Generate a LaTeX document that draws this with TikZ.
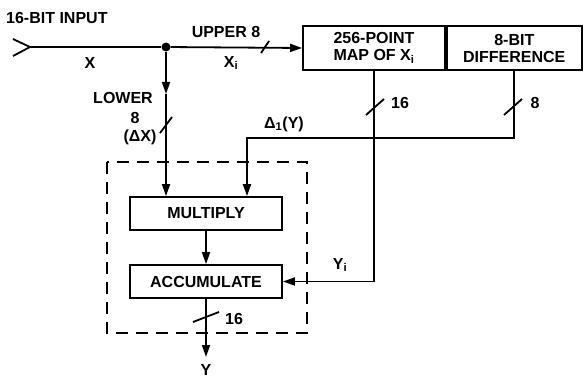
\documentclass[tikz,border=0pt]{standalone}
\usepackage{fontspec}
\setmainfont{Liberation Sans}
\usetikzlibrary{positioning,arrows.meta,calc}

\begin{document}
\begin{tikzpicture}[x=1pt, y=-1pt,
  every node/.style={font=\fontsize{16}{17}\selectfont\bfseries, inner sep=0pt},
  blk/.style={draw, line width=1.8pt, minimum height=#1, align=center},
  blk/.default=33pt,
  wire/.style={line width=1.8pt},
  arr/.style={wire, -{Triangle[length=12pt,width=8pt]}},
  dot/.style={circle, fill, minimum size=9pt},
  frame/.style={line width=1.8pt, dash pattern=on 12pt off 8pt}]
\useasboundingbox (0,0) rectangle (583,379);

%% Lookup table row
\node[blk=44pt, minimum width=142pt] (map) at (374,48) {256-POINT\\MAP OF X\textsubscript{i}};
\node[blk=44pt, minimum width=135pt, anchor=west] (diff) at (map.east) {8-BIT\\DIFFERENCE};

%% Interpolator blocks
\node[blk, minimum width=152pt] (mult)  at (206,213.5) {MULTIPLY};
\node[blk, minimum width=152pt] (accum) at (206,281.5) {ACCUMULATE};
\draw[frame] (107,162) rectangle (307,333);

%% Input and junction
\coordinate (chevA) at (13,39);
\coordinate (chevB) at (13,56);
\coordinate (in)    at (30,47);
\node[dot] (jn) at (166,47) {};
\coordinate (lowmid) at (166,94);
\coordinate (dY)   at (247,138);
\coordinate (yout) at (206,357);

%% Labels
\node[anchor=west] (inlbl) at (6,18) {16-BIT INPUT};
\node (xlbl)   at (90,63)  {X};
\node (xilbl)  at (231,63) {X\textsubscript{i}};
\node (uplbl)  at (226,32) {UPPER 8};
\node (lolbl)  at (123,98) {LOWER};
\node (lo8)    at (135,118) {8};
\node (dxlbl)  at (140,137) {(ΔX)};
\node (dlbl)   at (284,124) {Δ\textsubscript{1}(Y)};
\node (m16)    at (400,103) {16};
\node (d8)     at (535,103) {8};
\node (yilbl)  at (340,265) {Y\textsubscript{i}};
\node (o16)    at (234,319) {16};
\node[anchor=north] (ylbl) at (206,364) {Y};

%% Connectors
\draw[wire] (chevA) -- (in) -- (chevB);
\draw[wire] (in) -- (jn);
\draw[arr] (jn) -- (map.west);
\draw[arr] (jn) -- (lowmid);
\draw[arr] (lowmid) -- (lowmid |- mult.north);
\draw[arr] (diff.south) |- (dY) -- (dY |- mult.north);
\draw[arr] (map.south) |- (accum.east);
\draw[arr] (mult) -- (accum);
\draw[arr] (accum.south) -- (yout);

%% Bus width marks
\foreach \px/\py/\dx/\dy in {265/47/4/6, 166/125/6/8, 375/107/9/8, 513/107/9/8, 206/317/13/5}{
  \draw[wire] (\px-\dx,\py+\dy) -- (\px+\dx,\py-\dy);
}
\end{tikzpicture}
\end{document}
